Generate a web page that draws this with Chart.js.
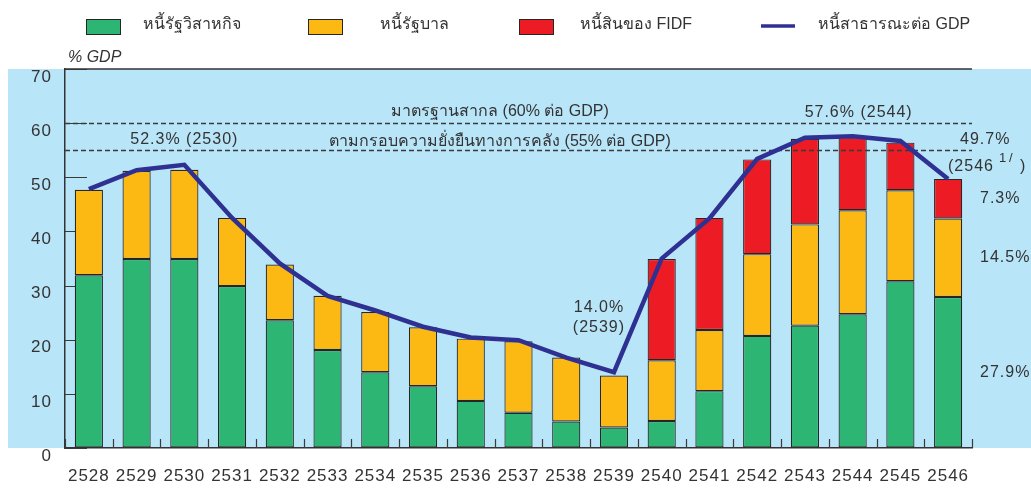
<!DOCTYPE html>
<html lang="th">
<head>
<meta charset="utf-8">
<title>หนี้สาธารณะต่อ GDP</title>
<script src="https://cdn.jsdelivr.net/npm/chart.js@4.4.1/dist/chart.umd.min.js"></script>
<style>
  html, body { margin: 0; padding: 0; background: #fff; }
  #wrap { width: 1031px; height: 488px; }
</style>
</head>
<body>
<div id="wrap"><canvas id="debtChart" width="1031" height="488"></canvas></div>
<script>
// ปีงบประมาณ (พ.ศ.)
const years = ['2528', '2529', '2530', '2531', '2532', '2533', '2534', '2535', '2536', '2537',
               '2538', '2539', '2540', '2541', '2542', '2543', '2544', '2545', '2546'];

// % ของ GDP แยกตามประเภทหนี้
const soeDebt  = [31.9, 34.9, 34.9, 29.9, 23.6, 18.1, 14.0, 11.4, 8.7, 6.5,
                  4.9, 3.8, 5.0, 10.5, 20.7, 22.6, 24.7, 30.8, 27.9];
const govDebt  = [15.8, 16.3, 16.5, 12.6, 10.3, 10.0, 11.1, 10.9, 11.5, 13.2,
                  11.8, 9.6, 11.2, 11.3, 15.1, 18.7, 19.2, 16.8, 14.5];
const fidfDebt = [null, null, null, null, null, null, null, null, null, null,
                  null, null, 18.7, 20.7, 17.5, 15.8, 13.5, 8.8, 7.3];
const publicDebt = [47.8, 51.3, 52.3, 42.5, 34.1, 28.1, 25.4, 22.4, 20.4, 19.9,
                    16.7, 14.0, 35.0, 42.4, 53.4, 57.3, 57.6, 56.7, 49.7];

const yTicks = [0, 10, 20, 30, 40, 50, 60, 70];

// เส้นเกณฑ์
const limitValues = [60, 55];
const limitLabels = ['มาตรฐานสากล (60% ต่อ GDP)', 'ตามกรอบความยั่งยืนทางการคลัง (55% ต่อ GDP)'];

const FONT = "'Liberation Sans', Arial, sans-serif";
const TEXT = '#333333';

const colors = {
    soe: '#2CB573',
    gov: '#FDB913',
    fidf: '#ED1C24',
    line: '#2E3192',
    panel: '#B9E5F9',
    edge: '#262626'
};

// พื้นหลังฟ้า + กรอบด้านบน
const panelPlugin = {
    id: 'panel',
    beforeDraw(chart) {
        const { ctx, chartArea: a, width } = chart;
        ctx.save();
        ctx.fillStyle = colors.panel;
        ctx.fillRect(8, a.top, width - 8, a.bottom - a.top);
        ctx.restore();
        ctx.letterSpacing = '1px';
    },
    afterDraw(chart) {
        const { ctx, chartArea: a } = chart;
        ctx.save();
        ctx.strokeStyle = '#333';
        ctx.lineWidth = 1.5;
        ctx.beginPath();
        ctx.moveTo(a.left, a.top);
        ctx.lineTo(a.right, a.top);
        ctx.stroke();
        ctx.restore();
    }
};

// ขีดสเกลด้านในกรอบ (อยู่หลังแท่ง)
const tickPlugin = {
    id: 'innerTicks',
    beforeDatasetsDraw(chart) {
        const { ctx, chartArea: a, scales: { x, y } } = chart;
        ctx.save();
        ctx.strokeStyle = '#3a3a3a';
        ctx.lineWidth = 1.2;
        ctx.beginPath();
        yTicks.forEach(v => {
            const py = Math.round(y.getPixelForValue(v)) + 0.5;
            ctx.moveTo(a.left, py);
            ctx.lineTo(a.left + 22, py);
        });
        for (let i = 0; i <= years.length; i++) {
            const px = Math.round(x.getPixelForValue(i - 0.5)) + 0.5;
            ctx.moveTo(px, a.bottom);
            ctx.lineTo(px, a.bottom - 9);
        }
        ctx.stroke();
        ctx.restore();
    }
};

// เส้นประ 60% / 55% ใต้เส้นหนี้สาธารณะ
const limitPlugin = {
    id: 'limits',
    beforeDatasetDraw(chart, args) {
        if (args.meta.type !== 'line') return;
        const { ctx, chartArea: a, scales: { y } } = chart;
        ctx.save();
        ctx.strokeStyle = '#3a3a3a';
        ctx.lineWidth = 1.5;
        ctx.setLineDash([5, 3]);
        limitValues.forEach(v => {
            const py = Math.round(y.getPixelForValue(v)) + 0.5;
            ctx.beginPath();
            ctx.moveTo(a.left, py);
            ctx.lineTo(a.right, py);
            ctx.stroke();
        });
        ctx.restore();
    }
};

// ข้อความกำกับ
const notesPlugin = {
    id: 'notes',
    afterDraw(chart) {
        const { ctx, scales: { x, y } } = chart;
        ctx.save();
        ctx.fillStyle = TEXT;
        ctx.textBaseline = 'middle';

        ctx.letterSpacing = '0px';
        ctx.font = 'italic 16px ' + FONT;
        ctx.textAlign = 'left';
        ctx.fillText('% GDP', 68, 58);

        ctx.font = '16px ' + FONT;
        ctx.textAlign = 'center';
        const limitShift = [-12, -9];
        limitLabels.forEach((t, i) => {
            ctx.fillText(t, 500, y.getPixelForValue(limitValues[i]) + limitShift[i]);
        });

        ctx.letterSpacing = '1px';
        const i2530 = years.indexOf('2530');
        const i2539 = years.indexOf('2539');
        const i2544 = years.indexOf('2544');
        const i2546 = years.indexOf('2546');
        ctx.fillText(publicDebt[i2530].toFixed(1) + '% (2530)', x.getPixelForValue(i2530), y.getPixelForValue(56.9));
        ctx.fillText(publicDebt[i2544].toFixed(1) + '% (2544)', x.getPixelForValue(i2544) + 6, y.getPixelForValue(61.9));
        ctx.fillText(publicDebt[i2539].toFixed(1) + '%', x.getPixelForValue(i2539) - 15, y.getPixelForValue(25.9));
        ctx.fillText('(2539)', x.getPixelForValue(i2539) - 15, y.getPixelForValue(22.2));

        ctx.textAlign = 'left';
        ctx.fillText(publicDebt[i2546].toFixed(1) + '%', 960, y.getPixelForValue(56.9));
        // (2546 ¹/) ตัวยกเป็นเชิงอรรถ
        const yr = y.getPixelForValue(52.0);
        ctx.fillText('(2546', 948, yr);
        ctx.fillText(')', 1020, yr);
        ctx.font = '13px ' + FONT;
        ctx.fillText('1', 999, yr - 8);
        ctx.fillText('/', 1009, yr - 8);

        // สัดส่วนของปีล่าสุด กึ่งกลางแต่ละช่วง
        ctx.font = '16px ' + FONT;
        const parts = [soeDebt[i2546], govDebt[i2546], fidfDebt[i2546]];
        let base = 0;
        parts.forEach(v => {
            ctx.fillText(v.toFixed(1) + '%', 980, y.getPixelForValue(base + v / 2));
            base += v;
        });
        ctx.restore();
    }
};

// คำอธิบายสัญลักษณ์แถวบน
const legendPlugin = {
    id: 'legendRow',
    afterDraw(chart, args, opts) {
        const { ctx } = chart;
        ctx.save();
        ctx.letterSpacing = '0px';
        ctx.font = '16px ' + FONT;
        ctx.textBaseline = 'middle';
        ctx.textAlign = 'left';
        chart.data.datasets.forEach((ds, i) => {
            const bx = opts.boxX[i];
            const tx = opts.textX[i];
            if (ds.type === 'line') {
                ctx.strokeStyle = ds.borderColor;
                ctx.lineWidth = 3.5;
                ctx.beginPath();
                ctx.moveTo(bx, 26);
                ctx.lineTo(bx + 34, 26);
                ctx.stroke();
            } else {
                ctx.fillStyle = ds.backgroundColor;
                ctx.fillRect(bx, 19, 34, 15);
                ctx.strokeStyle = colors.edge;
                ctx.lineWidth = 1;
                ctx.strokeRect(bx + 0.5, 19.5, 34, 15);
            }
            ctx.fillStyle = TEXT;
            ctx.fillText(ds.label, tx, 25);
        });
        ctx.restore();
    }
};

const ctx = document.getElementById('debtChart').getContext('2d');

new Chart(ctx, {
    type: 'bar',
    data: {
        labels: years,
        datasets: [
            { label: 'หนี้รัฐวิสาหกิจ', data: soeDebt, backgroundColor: colors.soe, order: 1 },
            { label: 'หนี้รัฐบาล', data: govDebt, backgroundColor: colors.gov, order: 1 },
            { label: 'หนี้สินของ FIDF', data: fidfDebt, backgroundColor: colors.fidf, order: 1 },
            {
                type: 'line',
                label: 'หนี้สาธารณะต่อ GDP',
                data: publicDebt,
                borderColor: colors.line,
                borderWidth: 4.5,
                pointRadius: 0,
                tension: 0,
                fill: false,
                order: 0
            }
        ]
    },
    options: {
        responsive: false,
        animation: false,
        layout: { padding: { top: 69, right: 59, bottom: 0, left: 0 } },
        datasets: {
            bar: {
                categoryPercentage: 1,
                barPercentage: 0.59,
                borderWidth: 1.2,
                borderColor: colors.edge,
                borderSkipped: false
            }
        },
        plugins: {
            legend: { display: false },
            tooltip: { enabled: false },
            legendRow: {
                boxX: [86, 308, 519, 761],
                textX: [143, 380, 580, 818]
            }
        },
        scales: {
            x: {
                stacked: true,
                grid: { offset: true, drawOnChartArea: false, drawTicks: false },
                border: { color: '#333', width: 1.5 },
                ticks: { font: { family: FONT, size: 17 }, color: TEXT, padding: 18, maxRotation: 0 },
                afterFit(scale) { scale.height = 40; }
            },
            y: {
                stacked: true,
                min: 0,
                max: 70,
                afterBuildTicks(scale) { scale.ticks = yTicks.map(v => ({ value: v })); },
                grid: { drawOnChartArea: false, drawTicks: false },
                border: { color: '#333', width: 1.5 },
                ticks: { font: { family: FONT, size: 17 }, color: TEXT, padding: 13, labelOffset: 8 },
                afterFit(scale) {
                    scale.width = 65;
                    scale.paddingTop = 0;
                    scale.paddingBottom = 0;
                }
            }
        }
    },
    plugins: [panelPlugin, tickPlugin, limitPlugin, notesPlugin, legendPlugin]
});
</script>
</body>
</html>
